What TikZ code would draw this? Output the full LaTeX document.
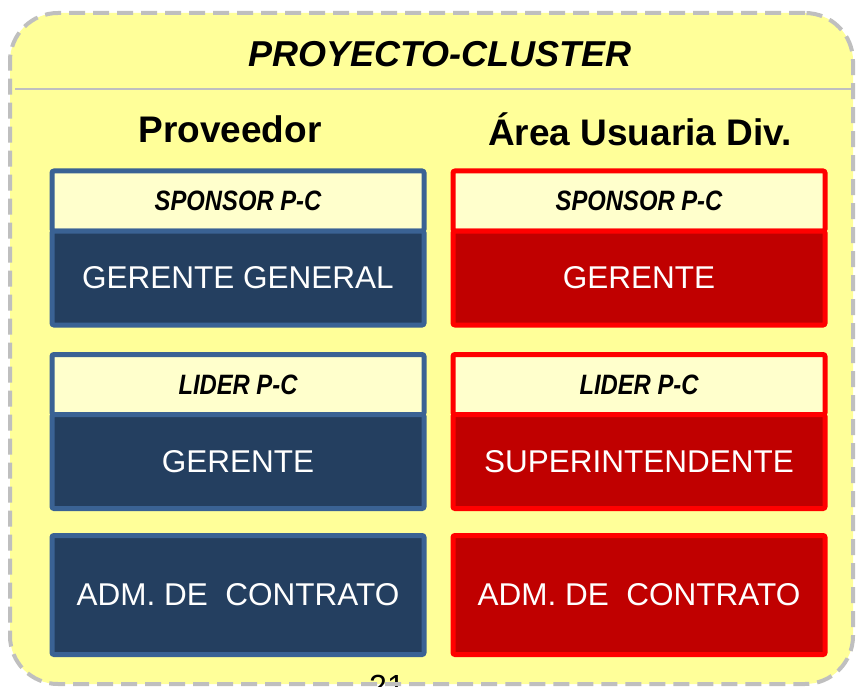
\documentclass[tikz,border=0pt]{standalone}
\usepackage{fontspec}
\setmainfont{Liberation Sans}
\newfontfamily\narrowfont[FakeStretch=0.85]{Liberation Sans}
\usepackage{tikz}
\usetikzlibrary{positioning}
\definecolor{frameyellow}{HTML}{FFFF99}
\definecolor{framegray}{HTML}{BFBFBF}
\definecolor{headyellow}{HTML}{FFFFCC}
\definecolor{provblue}{HTML}{3A6294}
\definecolor{provnavy}{HTML}{243F60}
\definecolor{areared}{HTML}{FF0000}
\definecolor{areadark}{HTML}{C00000}
\tikzstyle{framefill}=[rectangle, fill=frameyellow, rounded corners=48pt, minimum width=843pt, minimum height=671pt]
\tikzstyle{frameline}=[rectangle, draw=framegray, line width=4pt, dash pattern=on 16pt off 8pt, rounded corners=48pt, minimum width=843pt, minimum height=671pt]
\tikzstyle{rule}=[draw=framegray, line width=1.5pt]
\tikzstyle{title}=[anchor=base, font=\bfseries\itshape\fontsize{36}{40}\selectfont]
\tikzstyle{column}=[anchor=base, font=\bfseries\fontsize{37}{40}\selectfont]
\tikzstyle{head}=[rectangle, line width=5pt, fill=headyellow, rounded corners=2pt, outer sep=0pt, minimum width=372pt, minimum height=60pt, font=\narrowfont\bfseries\itshape\fontsize{28}{30}\selectfont]
\tikzstyle{body}=[rectangle, line width=5pt, rounded corners=2pt, outer sep=0pt, minimum width=372pt, minimum height=94pt, text=white, font=\fontsize{31.5}{34}\selectfont]
\tikzstyle{provhead}=[head, draw=provblue]
\tikzstyle{provbody}=[body, draw=provblue, fill=provnavy]
\tikzstyle{areahead}=[head, draw=areared]
\tikzstyle{areabody}=[body, draw=areared, fill=areadark]

\begin{document}
\begin{tikzpicture}[x=1pt, y=-1pt]
		\useasboundingbox (0,0) rectangle (856,687);
		\node[framefill] (cluster) at (431.5,348.5) {};
		\node[title] (titulo) at (440,67) {PROYECTO-CLUSTER};
		\coordinate (ruleL) at (15,89);
		\coordinate (ruleR) at (852,89);
		\draw[rule] (ruleL) -- (ruleR);
		\node[column] (proveedor) at (230,143) {Proveedor};
		\node[column] (usuaria) at (640,146) {Área Usuaria Div.};
	%--------------------
		\node[provhead] (provSponsor) at (238,201) {SPONSOR P-C};
		\node[provbody, below=0pt of provSponsor] (provGerente) {GERENTE GENERAL};
		\node[provhead] (provLider) at (238,384.5) {LIDER P-C};
		\node[provbody, below=0pt of provLider] (provGer) {GERENTE};
		\node[provbody, minimum height=119pt] (provAdm) at (238,595) {ADM. DE~~CONTRATO};
	%--------------------
		\node[areahead] (areaSponsor) at (639,201) {SPONSOR P-C};
		\node[areabody, below=0pt of areaSponsor] (areaGerente) {GERENTE};
		\node[areahead] (areaLider) at (639,384.5) {LIDER P-C};
		\node[areabody, below=0pt of areaLider] (areaSuper) {SUPERINTENDENTE};
		\node[areabody, minimum height=119pt] (areaAdm) at (639,595) {ADM. DE~~CONTRATO};
	%--------------------
		\node[anchor=base, font=\fontsize{32}{34}\selectfont] (pagina) at (387,697) {21};
		\node[frameline] (borde) at (cluster.center) {};
	\end{tikzpicture}
\end{document}
